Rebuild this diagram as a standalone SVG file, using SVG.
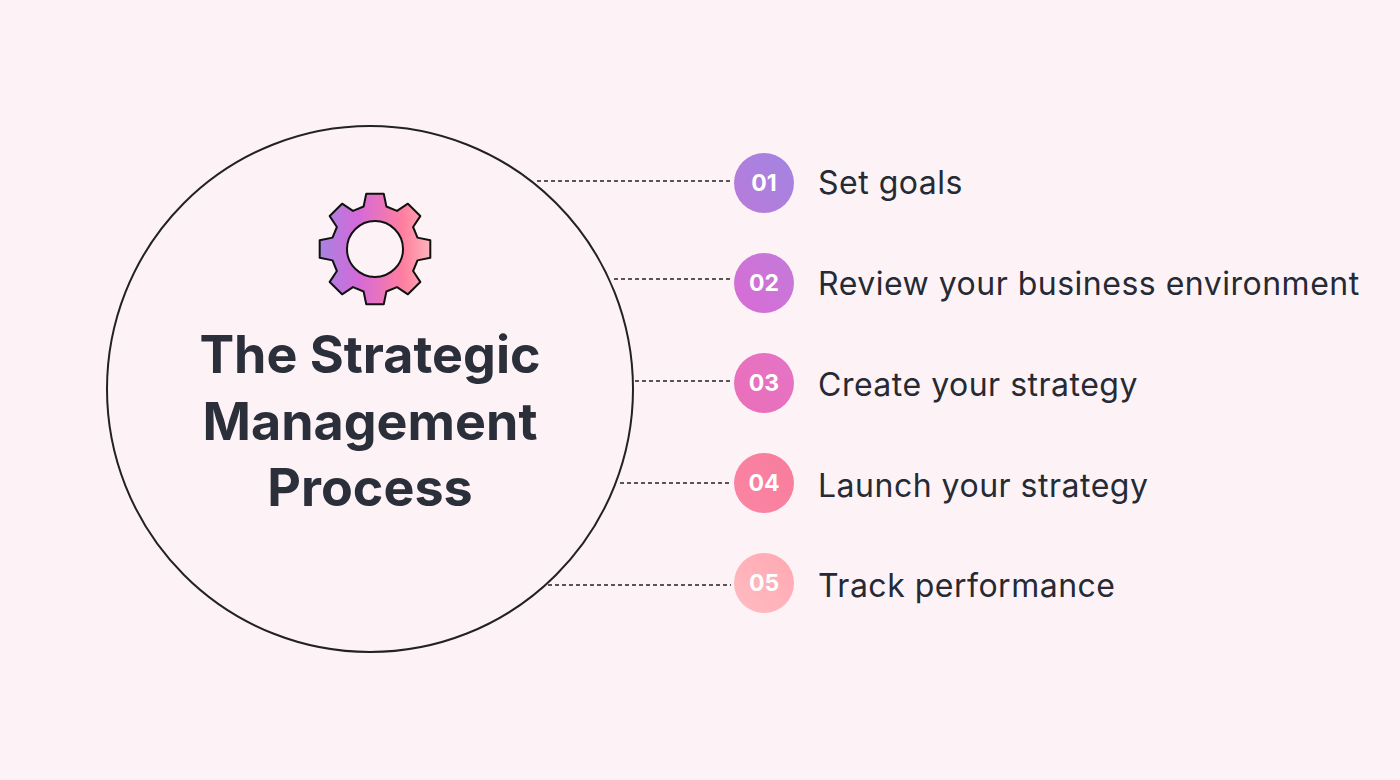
<svg xmlns="http://www.w3.org/2000/svg" width="1400" height="780" viewBox="0 0 1400 780">
<defs>
<linearGradient id="gg" x1="0" y1="0" x2="1" y2="0"><stop offset="0" stop-color="#a882e2"/><stop offset="0.35" stop-color="#d46ad8"/><stop offset="0.75" stop-color="#ff7e9f"/><stop offset="1" stop-color="#ffb3ba"/></linearGradient>
<linearGradient id="g1" x1="1" y1="0" x2="0" y2="1"><stop offset="0" stop-color="#a384e2"/><stop offset="1" stop-color="#b97bd9"/></linearGradient>
<linearGradient id="g2" x1="1" y1="0" x2="0" y2="1"><stop offset="0" stop-color="#c27bd9"/><stop offset="1" stop-color="#d96bd6"/></linearGradient>
<linearGradient id="g3" x1="1" y1="0" x2="0" y2="1"><stop offset="0" stop-color="#e474c6"/><stop offset="1" stop-color="#ea6fb8"/></linearGradient>
<linearGradient id="g4" x1="1" y1="0" x2="0" y2="1"><stop offset="0" stop-color="#f77c9c"/><stop offset="1" stop-color="#fb85a4"/></linearGradient>
<linearGradient id="g5" x1="1" y1="0" x2="0" y2="1"><stop offset="0" stop-color="#ffa8b2"/><stop offset="1" stop-color="#ffbcc2"/></linearGradient>
<style>
.num{font-family:Inter,"Liberation Sans",sans-serif;font-weight:700;font-size:23px;fill:#fff;text-anchor:middle}
.lab{font-family:Inter,"Liberation Sans",sans-serif;font-size:32px;letter-spacing:0.5px;fill:#252a35}
.ttl{font-family:Inter,"Liberation Sans",sans-serif;font-weight:700;font-size:52px;fill:#2a2f3a;text-anchor:middle}
.con{stroke:#222;stroke-width:1.6;stroke-dasharray:4 3;fill:none}
</style>
</defs>
<rect width="1400" height="780" fill="#fdf3f6"/>
<g id="center">
<circle cx="370" cy="389" r="263" fill="none" stroke="#222" stroke-width="2"/>
<path fill="url(#gg)" stroke="#111" stroke-width="2" stroke-linejoin="round" d="M363.61,206.5 L366.24,193.69 L383.76,193.69 L386.39,206.5 L397,210.89 L407.92,203.7 L420.3,216.08 L413.11,227 L417.5,237.61 L430.31,240.24 L430.31,257.76 L417.5,260.39 L413.11,271 L420.3,281.92 L407.92,294.3 L397,287.11 L386.39,291.5 L383.76,304.31 L366.24,304.31 L363.61,291.5 L353,287.11 L342.08,294.3 L329.7,281.92 L336.89,271 L332.5,260.39 L319.69,257.76 L319.69,240.24 L332.5,237.61 L336.89,227 L329.7,216.08 L342.08,203.7 L353,210.89 Z"/>
<circle cx="375" cy="249" r="28" fill="#fdf3f6" stroke="#111" stroke-width="2"/>
<text class="ttl" x="370" y="373">The Strategic</text>
<text class="ttl" x="370" y="440">Management</text>
<text class="ttl" x="370" y="506">Process</text>
</g>
<g id="connectors">
<line class="con" x1="537" y1="181" x2="731" y2="181"/>
<line class="con" x1="614" y1="279" x2="731" y2="279"/>
<line class="con" x1="635" y1="381" x2="731" y2="381"/>
<line class="con" x1="620" y1="483" x2="731" y2="483"/>
<line class="con" x1="548" y1="585" x2="731" y2="585"/>
</g>
<g id="s1"><circle cx="764" cy="183" r="30" fill="url(#g1)"/><text class="num" x="764" y="191">01</text><text class="lab" x="818" y="194">Set goals</text></g>
<g id="s2"><circle cx="764" cy="283" r="30" fill="url(#g2)"/><text class="num" x="764" y="291">02</text><text class="lab" x="818" y="295">Review your business environment</text></g>
<g id="s3"><circle cx="764" cy="383" r="30" fill="url(#g3)"/><text class="num" x="764" y="391">03</text><text class="lab" x="818" y="396">Create your strategy</text></g>
<g id="s4"><circle cx="764" cy="483" r="30" fill="url(#g4)"/><text class="num" x="764" y="491">04</text><text class="lab" x="818" y="497">Launch your strategy</text></g>
<g id="s5"><circle cx="764" cy="583" r="30" fill="url(#g5)"/><text class="num" x="764" y="591">05</text><text class="lab" x="818" y="597">Track performance</text></g>
</svg>
